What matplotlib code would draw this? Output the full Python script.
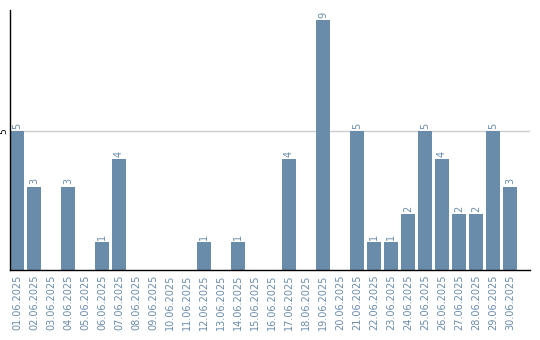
import matplotlib
matplotlib.use("Agg")
import matplotlib.pyplot as plt
import numpy as np

dates = ["%02d.06.2025" % d for d in range(1, 31)]
counts = [5, 3, 0, 3, 0, 1, 4, 0, 0, 0,
          0, 1, 0, 1, 0, 0, 4, 0, 9, 0,
          5, 1, 1, 2, 5, 4, 2, 2, 5, 3]

bar_col = "#6a8cab"
x = np.arange(len(dates))

fig = plt.figure(figsize=(5.4, 3.4), dpi=100)
ax = fig.add_axes([10/540, 70/340, 520/540, 260/340])

w = 14/17
ax.bar(x, counts, width=w, color=bar_col, zorder=2)
for xi, c in zip(x, counts):
    if c > 0:
        ax.text(xi, c + 0.08, str(c), rotation=90, ha="center", va="bottom",
                fontsize=7, color=bar_col)

ax.set_xlim(-w/2, 29 + w/2 + 13/17)
ax.set_ylim(0, 9.36)
ax.axhline(5, color="#cccccc", lw=1, zorder=1)

ax.set_xticks(x)
ax.set_xticklabels(dates, rotation=90, fontsize=7, color=bar_col)
ax.set_yticks([5])
ax.set_yticklabels(["5"], rotation=90, fontsize=6.5, va="center")
ax.tick_params(axis="both", length=0, pad=3)
ax.tick_params(axis="y", pad=1)

for s in ["top", "right"]:
    ax.spines[s].set_visible(False)
ax.spines["left"].set_linewidth(1)
ax.spines["bottom"].set_linewidth(1)

fig.savefig("out.png", dpi=100)
